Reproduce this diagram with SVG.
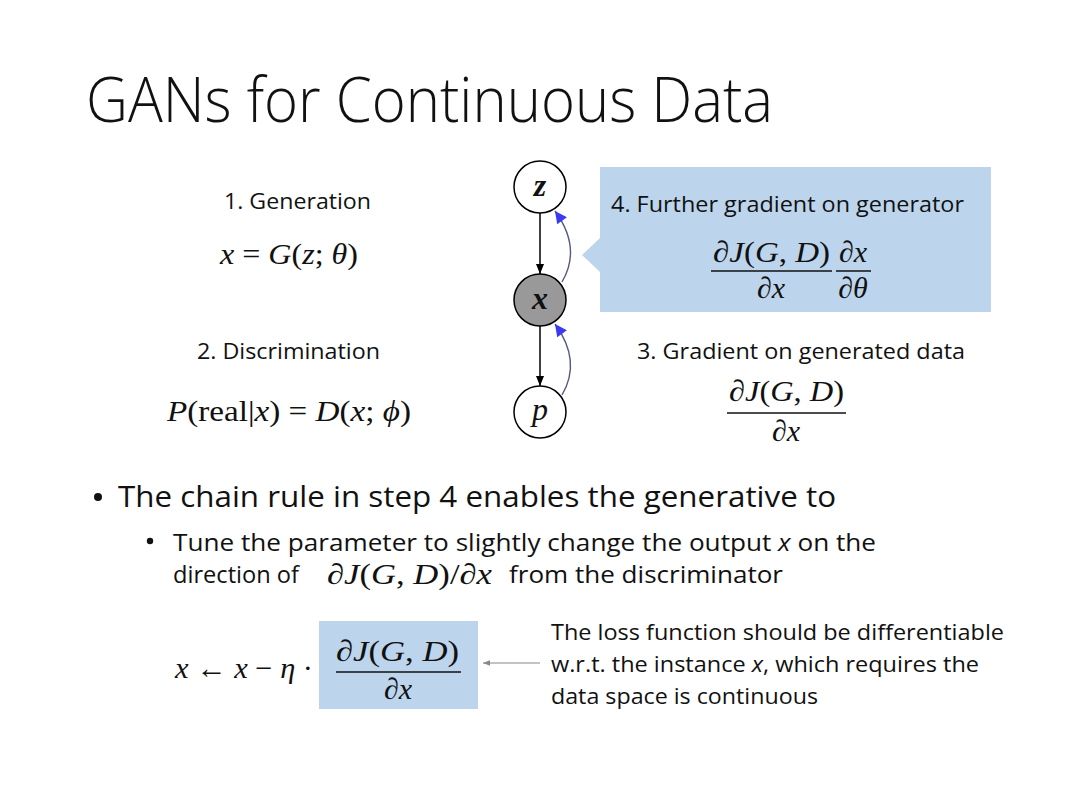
<svg xmlns="http://www.w3.org/2000/svg" width="1080" height="810" viewBox="0 0 1080 810">
<defs>
<style>
.t{font-family:"Open Sans","Liberation Sans",sans-serif;fill:#111;}
.m{font-family:"Liberation Serif","DejaVu Serif",serif;fill:#111;}
.i{font-style:italic;}
.bar{stroke:#111;stroke-width:1.4;}
.box{fill:#bcd5ec;}
</style>
<marker id="ab" viewBox="0 0 10 10" refX="10" refY="5" markerWidth="10" markerHeight="10" markerUnits="userSpaceOnUse" orient="auto"><path d="M0,1 L10,5 L0,9 Z" fill="#000"/></marker>
<marker id="abl" viewBox="0 0 10 10" refX="10" refY="5" markerWidth="14" markerHeight="12" markerUnits="userSpaceOnUse" orient="auto"><path d="M0,0 L10,5 L0,10 Z" fill="#3a3af0"/></marker>
<marker id="ag" viewBox="0 0 10 10" refX="10" refY="5" markerWidth="7" markerHeight="7" markerUnits="userSpaceOnUse" orient="auto"><path d="M0,1 L10,5 L0,9 Z" fill="#888"/></marker>
</defs>
<rect width="1080" height="810" fill="#fff"/>
<text class="t" x="86" y="122" font-size="62" font-weight="300" textLength="687" lengthAdjust="spacingAndGlyphs">GANs for Continuous Data</text>

<g id="left-labels">
<text class="t" x="224" y="209" font-size="21" textLength="147" lengthAdjust="spacingAndGlyphs">1. Generation</text>
<text class="m" x="220" y="264" font-size="30" textLength="138" lengthAdjust="spacingAndGlyphs"><tspan class="i">x</tspan> = <tspan class="i">G</tspan>(<tspan class="i">z</tspan>; <tspan class="i">θ</tspan>)</text>
<text class="t" x="197" y="359" font-size="21" textLength="183" lengthAdjust="spacingAndGlyphs">2. Discrimination</text>
<text class="m" x="167" y="421" font-size="30" textLength="244" lengthAdjust="spacingAndGlyphs"><tspan class="i">P</tspan>(real|<tspan class="i">x</tspan>) = <tspan class="i">D</tspan>(<tspan class="i">x</tspan>; <tspan class="i">ϕ</tspan>)</text>
</g>

<g id="callout4">
<path class="box" d="M600,167 H991 V312 H600 V272 L582,255 L600,238 Z"/>
<text class="t" x="611" y="212" font-size="21" textLength="353" lengthAdjust="spacingAndGlyphs">4. Further gradient on generator</text>
<text class="m" x="713" y="262" font-size="30" textLength="117" lengthAdjust="spacingAndGlyphs">∂<tspan class="i">J</tspan>(<tspan class="i">G</tspan>, <tspan class="i">D</tspan>)</text>
<line class="bar" x1="711" y1="271" x2="832" y2="271"/>
<text class="m" x="771" y="298" font-size="30" text-anchor="middle">∂<tspan class="i">x</tspan></text>
<text class="m" x="853" y="262" font-size="30" text-anchor="middle">∂<tspan class="i">x</tspan></text>
<line class="bar" x1="836" y1="271" x2="871" y2="271"/>
<text class="m" x="853" y="298" font-size="30" text-anchor="middle">∂<tspan class="i">θ</tspan></text>
</g>

<g id="label3">
<text class="t" x="637" y="359" font-size="21" textLength="328" lengthAdjust="spacingAndGlyphs">3. Gradient on generated data</text>
<text class="m" x="729" y="401" font-size="30" textLength="115" lengthAdjust="spacingAndGlyphs">∂<tspan class="i">J</tspan>(<tspan class="i">G</tspan>, <tspan class="i">D</tspan>)</text>
<line class="bar" x1="727" y1="413" x2="846" y2="413"/>
<text class="m" x="786" y="441" font-size="30" text-anchor="middle">∂<tspan class="i">x</tspan></text>
</g>

<g id="connectors" fill="none">
<line x1="540" y1="213" x2="540" y2="274" stroke="#000" stroke-width="1.5" marker-end="url(#ab)"/>
<line x1="540" y1="326" x2="540" y2="386" stroke="#000" stroke-width="1.5" marker-end="url(#ab)"/>
<path d="M562,282 Q582,248 555,211" stroke="#555a80" stroke-width="1.4" marker-end="url(#abl)"/>
<path d="M562,395 Q582,361 555,324" stroke="#555a80" stroke-width="1.4" marker-end="url(#abl)"/>
<line x1="540" y1="663" x2="483" y2="663" stroke="#888" stroke-width="1.2" marker-end="url(#ag)"/>
</g>

<g id="node-z">
<circle cx="540" cy="187" r="26" fill="#fff" stroke="#000" stroke-width="1.5"/>
<text class="m i" x="540" y="196" font-size="32" text-anchor="middle" font-weight="bold">z</text>
</g>
<g id="node-x">
<circle cx="540" cy="300" r="26" fill="#999" stroke="#000" stroke-width="1.5"/>
<text class="m i" x="540" y="309" font-size="32" text-anchor="middle" font-weight="bold">x</text>
</g>
<g id="node-p">
<circle cx="540" cy="412" r="26" fill="#fff" stroke="#000" stroke-width="1.5"/>
<text class="m i" x="540" y="420" font-size="32" text-anchor="middle">p</text>
</g>

<g id="bullets">
<circle cx="98" cy="497" r="4" fill="#111"/>
<text class="t" x="118" y="507" font-size="29" textLength="718" lengthAdjust="spacingAndGlyphs">The chain rule in step 4 enables the generative to</text>
<circle cx="150" cy="541" r="3.2" fill="#111"/>
<text class="t" x="173" y="551" font-size="24" textLength="703" lengthAdjust="spacingAndGlyphs">Tune the parameter to slightly change the output <tspan font-style="italic">x</tspan> on the</text>
<text class="t" x="173" y="583" font-size="24" textLength="126" lengthAdjust="spacingAndGlyphs">direction of</text>
<text class="m" x="327" y="584" font-size="29" textLength="165" lengthAdjust="spacingAndGlyphs">∂<tspan class="i">J</tspan>(<tspan class="i">G</tspan>, <tspan class="i">D</tspan>)/∂<tspan class="i">x</tspan></text>
<text class="t" x="509" y="583" font-size="24" textLength="274" lengthAdjust="spacingAndGlyphs">from the discriminator</text>
</g>

<g id="update">
<text class="m" x="175" y="678" font-size="30" textLength="138" lengthAdjust="spacingAndGlyphs"><tspan class="i">x</tspan> ← <tspan class="i">x</tspan> − <tspan class="i">η</tspan> ·</text>
<rect class="box" x="319" y="621" width="159" height="88"/>
<text class="m" x="336" y="661" font-size="30" textLength="123" lengthAdjust="spacingAndGlyphs">∂<tspan class="i">J</tspan>(<tspan class="i">G</tspan>, <tspan class="i">D</tspan>)</text>
<line class="bar" x1="336" y1="672" x2="461" y2="672"/>
<text class="m" x="398" y="699" font-size="30" text-anchor="middle">∂<tspan class="i">x</tspan></text>
</g>

<g id="note">
<text class="t" x="551" y="640" font-size="21" textLength="453" lengthAdjust="spacingAndGlyphs">The loss function should be differentiable</text>
<text class="t" x="551" y="672" font-size="21" textLength="428" lengthAdjust="spacingAndGlyphs">w.r.t. the instance <tspan font-style="italic">x</tspan>, which requires the</text>
<text class="t" x="551" y="704" font-size="21" textLength="267" lengthAdjust="spacingAndGlyphs">data space is continuous</text>
</g>
</svg>
